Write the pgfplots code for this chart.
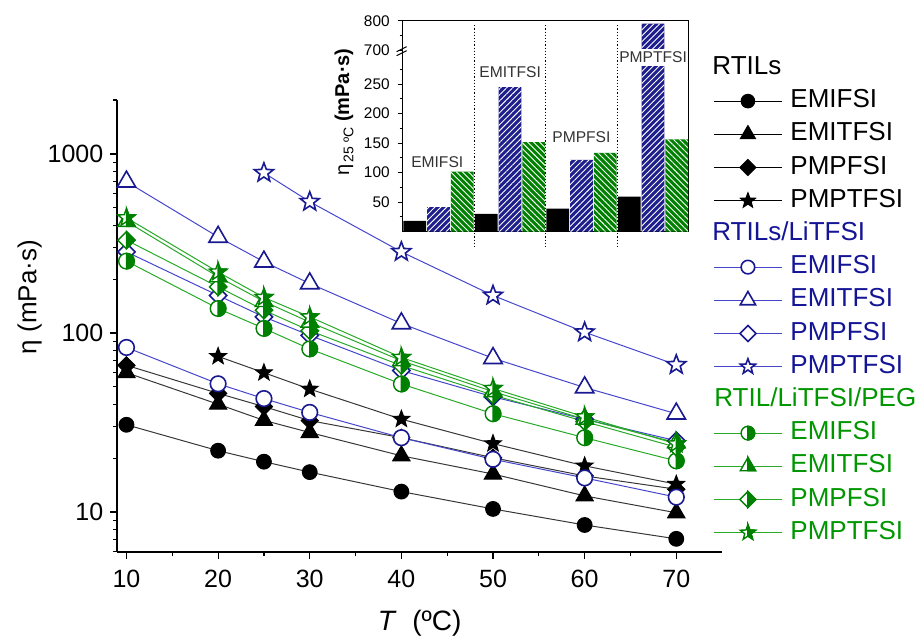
\documentclass[border=0pt]{standalone}
\usepackage{fontspec}
\setmainfont{Liberation Sans}
\usepackage{pgfplots}
\pgfplotsset{compat=1.18}
\usetikzlibrary{patterns.meta}
\definecolor{navy}{RGB}{25,25,145}
\definecolor{lblue}{RGB}{70,70,205}
\definecolor{pegreen}{RGB}{0,128,0}
\definecolor{lgreen}{RGB}{40,170,40}
\definecolor{lblack}{RGB}{55,55,55}
\definecolor{barblue}{RGB}{30,30,140}
\definecolor{bargreen}{RGB}{0,128,0}
\definecolor{bluetxt}{RGB}{20,20,150}
\definecolor{greentxt}{RGB}{0,150,0}

\def\starpath{%
  \pgfpathmoveto{\pgfpointpolar{90}{\pgfplotmarksize}}%
  \pgfpathlineto{\pgfpointpolar{126}{0.42\pgfplotmarksize}}%
  \pgfpathlineto{\pgfpointpolar{162}{\pgfplotmarksize}}%
  \pgfpathlineto{\pgfpointpolar{198}{0.42\pgfplotmarksize}}%
  \pgfpathlineto{\pgfpointpolar{234}{\pgfplotmarksize}}%
  \pgfpathlineto{\pgfpointpolar{270}{0.42\pgfplotmarksize}}%
  \pgfpathlineto{\pgfpointpolar{306}{\pgfplotmarksize}}%
  \pgfpathlineto{\pgfpointpolar{342}{0.42\pgfplotmarksize}}%
  \pgfpathlineto{\pgfpointpolar{18}{\pgfplotmarksize}}%
  \pgfpathlineto{\pgfpointpolar{54}{0.42\pgfplotmarksize}}%
  \pgfpathclose}
\def\tripath{%
  \pgfpathmoveto{\pgfpointpolar{90}{\pgfplotmarksize}}%
  \pgfpathlineto{\pgfpointpolar{210}{\pgfplotmarksize}}%
  \pgfpathlineto{\pgfpointpolar{330}{\pgfplotmarksize}}%
  \pgfpathclose}
\def\diapath{%
  \pgfpathmoveto{\pgfpoint{0pt}{\pgfplotmarksize}}%
  \pgfpathlineto{\pgfpoint{\pgfplotmarksize}{0pt}}%
  \pgfpathlineto{\pgfpoint{0pt}{-\pgfplotmarksize}}%
  \pgfpathlineto{\pgfpoint{-\pgfplotmarksize}{0pt}}%
  \pgfpathclose}
\pgfdeclareplotmark{fstar}{\starpath\pgfusepathqfillstroke}
\pgfdeclareplotmark{tri}{\tripath\pgfusepathqfillstroke}
\pgfdeclareplotmark{dia}{\diapath\pgfusepathqfillstroke}
\pgfdeclareplotmark{hcirc}{%
  \pgfpathcircle{\pgfpointorigin}{\pgfplotmarksize}%
  \pgfsetfillcolor{white}\pgfusepathqfillstroke
  \pgfpathmoveto{\pgfpoint{0pt}{\pgfplotmarksize}}%
  \pgfpatharc{90}{-90}{\pgfplotmarksize}%
  \pgfpathclose\pgfsetfillcolor{pegreen}\pgfusepathqfillstroke}
\pgfdeclareplotmark{htri}{%
  \tripath\pgfsetfillcolor{white}\pgfusepathqfillstroke
  \pgfpathmoveto{\pgfpointpolar{90}{\pgfplotmarksize}}%
  \pgfpathlineto{\pgfpointpolar{330}{\pgfplotmarksize}}%
  \pgfpathlineto{\pgfpoint{0pt}{-0.5\pgfplotmarksize}}%
  \pgfpathclose\pgfsetfillcolor{pegreen}\pgfusepathqfillstroke}
\pgfdeclareplotmark{hdia}{%
  \diapath\pgfsetfillcolor{white}\pgfusepathqfillstroke
  \pgfpathmoveto{\pgfpoint{0pt}{\pgfplotmarksize}}%
  \pgfpathlineto{\pgfpoint{\pgfplotmarksize}{0pt}}%
  \pgfpathlineto{\pgfpoint{0pt}{-\pgfplotmarksize}}%
  \pgfpathclose\pgfsetfillcolor{pegreen}\pgfusepathqfillstroke}
\pgfdeclareplotmark{hstar}{%
  \starpath\pgfsetfillcolor{white}\pgfusepathqfillstroke
  \pgfpathmoveto{\pgfpointpolar{90}{\pgfplotmarksize}}%
  \pgfpathlineto{\pgfpointpolar{54}{0.42\pgfplotmarksize}}%
  \pgfpathlineto{\pgfpointpolar{18}{\pgfplotmarksize}}%
  \pgfpathlineto{\pgfpointpolar{342}{0.42\pgfplotmarksize}}%
  \pgfpathlineto{\pgfpointpolar{306}{\pgfplotmarksize}}%
  \pgfpathlineto{\pgfpointpolar{270}{0.42\pgfplotmarksize}}%
  \pgfpathclose\pgfsetfillcolor{pegreen}\pgfusepathqfillstroke}

\pgfplotsset{
  blk/.style={color=lblack, line width=0.5pt, mark options={draw=black, fill=black, line width=0.5pt, solid}},
  blu/.style={color=lblue, line width=0.5pt, mark options={draw=navy, fill=white, line width=0.8pt, solid}},
  grn/.style={color=lgreen, line width=0.5pt, mark options={draw=pegreen, fill=white, line width=0.7pt, solid}},
}

\begin{document}
\begin{tikzpicture}
\useasboundingbox (-58.65pt,-45.15pt) rectangle (403.35pt,275.85pt);
\begin{axis}[
  at={(0pt,0pt)}, anchor=south west, scale only axis,
  width=302.4pt, height=225.8pt,
  xmin=9, xmax=75, ymode=log, ymin=6, ymax=2000,
  axis x line*=bottom, axis y line*=left,
  axis line style={line width=0.8pt},
  xtick={10,20,30,40,50,60,70}, minor xtick={15,25,35,45,55,65},
  ytick={10,100,1000}, yticklabels={10,100,1000},
  minor ytick={6,7,8,9,20,30,40,50,60,70,80,90,200,300,400,500,600,700,800,900,2000},
  tick align=outside, major tick length=3.5pt, minor tick length=2pt,
  tick style={black, line width=0.6pt},
  tick label style={font=\fontsize{12.5}{14}\selectfont},
  /pgf/number format/assume math mode=true,
  xticklabel style={yshift=-2pt},
  xlabel={\textit{T}\ \ (ºC)},
  xlabel style={at={(rel axis cs:0.5,-0.158)}, anchor=center, font=\fontsize{14}{16}\selectfont},
  ylabel={η (mPa·s)},
  ylabel style={at={(rel axis cs:-0.145,0.564)}, anchor=center, font=\fontsize{13}{15}\selectfont},
  clip=false,
  legend cell align=left,
  legend image code/.code={\draw[mark repeat=2,mark phase=2,#1] plot coordinates {(0pt,0pt)(17pt,0pt)(34pt,0pt)};},
  legend style={at={(rel axis cs:0.985,1.0985)}, anchor=north west, draw=none, fill=none,
    inner sep=0pt, column sep=4pt, row sep=4.7pt, font=\fontsize{13}{15}\selectfont,
    nodes={inner sep=0pt, text height=9.2pt, text depth=2.7pt}},
]
% RTILs
\addplot[blk, mark=*, mark size=3.7pt, forget plot] coordinates {(10,30.7)(20,22.0)(25,19.1)(30,16.7)(40,13.0)(50,10.4)(60,8.46)(70,7.08)};
\addplot[blk, mark=tri, mark size=5pt, forget plot] coordinates {(10,60)(20,40)(25,32.5)(30,27.8)(40,20.6)(50,16.3)(60,12.3)(70,9.9)};
\addplot[blk, mark=dia, mark size=4.3pt, forget plot] coordinates {(10,66)(20,46)(25,38.8)(30,32.4)(40,26)(50,20.1)(60,15.9)(70,13.4)};
\addplot[blk, mark=fstar, mark size=4.4pt, forget plot] coordinates {(20,74)(25,60)(30,48.6)(40,33)(50,24.1)(60,18.1)(70,14.3)};
% RTILs/LiTFSI
\addplot[blu, mark=*, mark size=3.9pt, forget plot] coordinates {(10,83)(20,52)(25,43)(30,36)(40,26)(50,19.7)(60,15.5)(70,12.1)};
\addplot[blu, mark=tri, mark size=5.3pt, forget plot] coordinates {(10,700)(20,344)(25,250)(30,189)(40,113)(50,72.3)(60,49.6)(70,35.4)};
\addplot[blu, mark=dia, mark size=4.3pt, forget plot] coordinates {(10,284)(20,162)(25,123)(30,97)(40,61.7)(50,44)(60,33)(70,25)};
\addplot[blu, mark=fstar, mark size=5pt, forget plot] coordinates {(25,785)(30,541)(40,284)(50,162)(60,101)(70,66.4)};
% RTIL/LiTFSI/PEG
\addplot[grn, mark=hcirc, mark size=3.9pt, forget plot] coordinates {(10,252)(20,137)(25,106)(30,81.5)(40,51.9)(50,35.4)(60,26)(70,19.3)};
\addplot[grn, mark=hdia, mark size=4.3pt, forget plot] coordinates {(10,330)(20,181)(25,134)(30,103)(40,65.8)(50,45)(60,32)(70,23)};
\addplot[grn, mark=htri, mark size=5pt, forget plot] coordinates {(10,420)(20,206)(25,150)(30,115)(40,70)(50,47)(60,33)(70,24.4)};
\addplot[grn, mark=hstar, mark size=4.6pt, forget plot] coordinates {(10,440)(20,219)(25,158)(30,123)(40,73)(50,49)(60,34)(70,24)};

\addlegendimage{empty legend}\addlegendentry{\hspace*{-44.5pt}RTILs}
\addlegendimage{blk, color=black, mark=*, mark size=3.4pt}\addlegendentry{EMIFSI}
\addlegendimage{blk, color=black, mark=tri, mark size=4.4pt}\addlegendentry{EMITFSI}
\addlegendimage{blk, color=black, mark=dia, mark size=4pt}\addlegendentry{PMPFSI}
\addlegendimage{blk, color=black, mark=fstar, mark size=4pt}\addlegendentry{PMPTFSI}
\addlegendimage{empty legend}\addlegendentry{\hspace*{-39pt}\textcolor{bluetxt}{RTILs/LiTFSI}}
\addlegendimage{blu, mark=*, mark size=3.4pt}\addlegendentry{\textcolor{bluetxt}{EMIFSI}}
\addlegendimage{blu, mark=tri, mark size=4.4pt}\addlegendentry{\textcolor{bluetxt}{EMITFSI}}
\addlegendimage{blu, mark=dia, mark size=4pt}\addlegendentry{\textcolor{bluetxt}{PMPFSI}}
\addlegendimage{blu, mark=fstar, mark size=4pt}\addlegendentry{\textcolor{bluetxt}{PMPTFSI}}
\addlegendimage{empty legend}\addlegendentry{\hspace*{-38pt}\textcolor{greentxt}{RTIL/LiTFSI/PEG}}
\addlegendimage{grn, mark=hcirc, mark size=3.4pt}\addlegendentry{\textcolor{greentxt}{EMIFSI}}
\addlegendimage{grn, mark=htri, mark size=4.4pt}\addlegendentry{\textcolor{greentxt}{EMITFSI}}
\addlegendimage{grn, mark=hdia, mark size=4pt}\addlegendentry{\textcolor{greentxt}{PMPFSI}}
\addlegendimage{grn, mark=hstar, mark size=4pt}\addlegendentry{\textcolor{greentxt}{PMPTFSI}}
\end{axis}

\begin{axis}[
  at={(142.7pt,160pt)}, anchor=south west, scale only axis,
  width=143pt, height=105.5pt,
  xmin=-0.5, xmax=3.5, ymin=0, ymax=800,
  y coord trafo/.code={\pgfmathparse{#1>500 ? 306.8+(#1-700)*0.508 : #1}},
  y coord inv trafo/.code={\pgfmathparse{#1>306.8 ? 700+(#1-306.8)/0.508 : #1}},
  xtick=\empty,
  ytick={50,100,150,200,250,700,800}, yticklabels={50,100,150,200,250,700,800},
  minor ytick={25,75,125,175,225,275,750},
  ytick pos=left, tick align=outside, major tick length=2.5pt, minor tick length=1.5pt,
  tick style={black, line width=0.5pt},
  yticklabel style={font=\fontsize{7.7}{9}\selectfont, xshift=-0.5pt},
  axis line style={line width=0.6pt},
  axis background/.style={fill=white},
  ybar, bar width=0.318, bar shift=0pt,
  clip=false,
  ylabel={η\raisebox{-0.4ex}{\fontsize{7}{8}\selectfont\,25 ºC} \textbf{(mPa·s)}},
  ylabel style={at={(rel axis cs:-0.205,0.567)}, anchor=center, font=\fontsize{10}{12}\selectfont},
]
\addplot[fill=black, draw=none] coordinates {(-0.333,18.4)(0.667,30.2)(1.667,39.3)(2.667,59.6)};
\addplot[fill=barblue, draw=none, postaction={pattern={Lines[angle=45,distance=2.1pt,line width=0.45pt]}, pattern color=white}] coordinates {(0,41.5)(1,245)(2,121.8)(3,790)};
\addplot[fill=bargreen, draw=none, postaction={pattern={Lines[angle=-45,distance=2.1pt,line width=0.45pt]}, pattern color=white}] coordinates {(0.333,102)(1.333,152)(2.333,133.6)(3.333,156.6)};
\draw[densely dotted, line width=0.6pt] (axis cs:0.5,785) -- ([yshift=-7.5pt]axis cs:0.5,0);
\draw[densely dotted, line width=0.6pt] (axis cs:1.5,785) -- ([yshift=-7.5pt]axis cs:1.5,0);
\draw[densely dotted, line width=0.6pt] (axis cs:2.5,785) -- ([yshift=-7.5pt]axis cs:2.5,0);
\draw[line width=0.5pt] ([xshift=-3pt,yshift=-2.5pt]axis cs:-0.5,700) -- ++(5pt,2.5pt)
  ([xshift=-3pt,yshift=-0.5pt]axis cs:-0.5,700) -- ++(5pt,2.5pt);
\begin{scope}[every node/.style={anchor=west, inner xsep=0.5pt, inner ysep=1.5pt, font=\fontsize{7.8}{9}\selectfont, text=black!80}]
\node at (axis cs:-0.40,118) {EMIFSI};
\node at (axis cs:0.553,271) {EMITFSI};
\node at (axis cs:1.574,160.5) {PMPFSI};
\node[fill=white] at (axis cs:2.51,296) {PMPTFSI};
\end{scope}
\end{axis}
\end{tikzpicture}
\end{document}
